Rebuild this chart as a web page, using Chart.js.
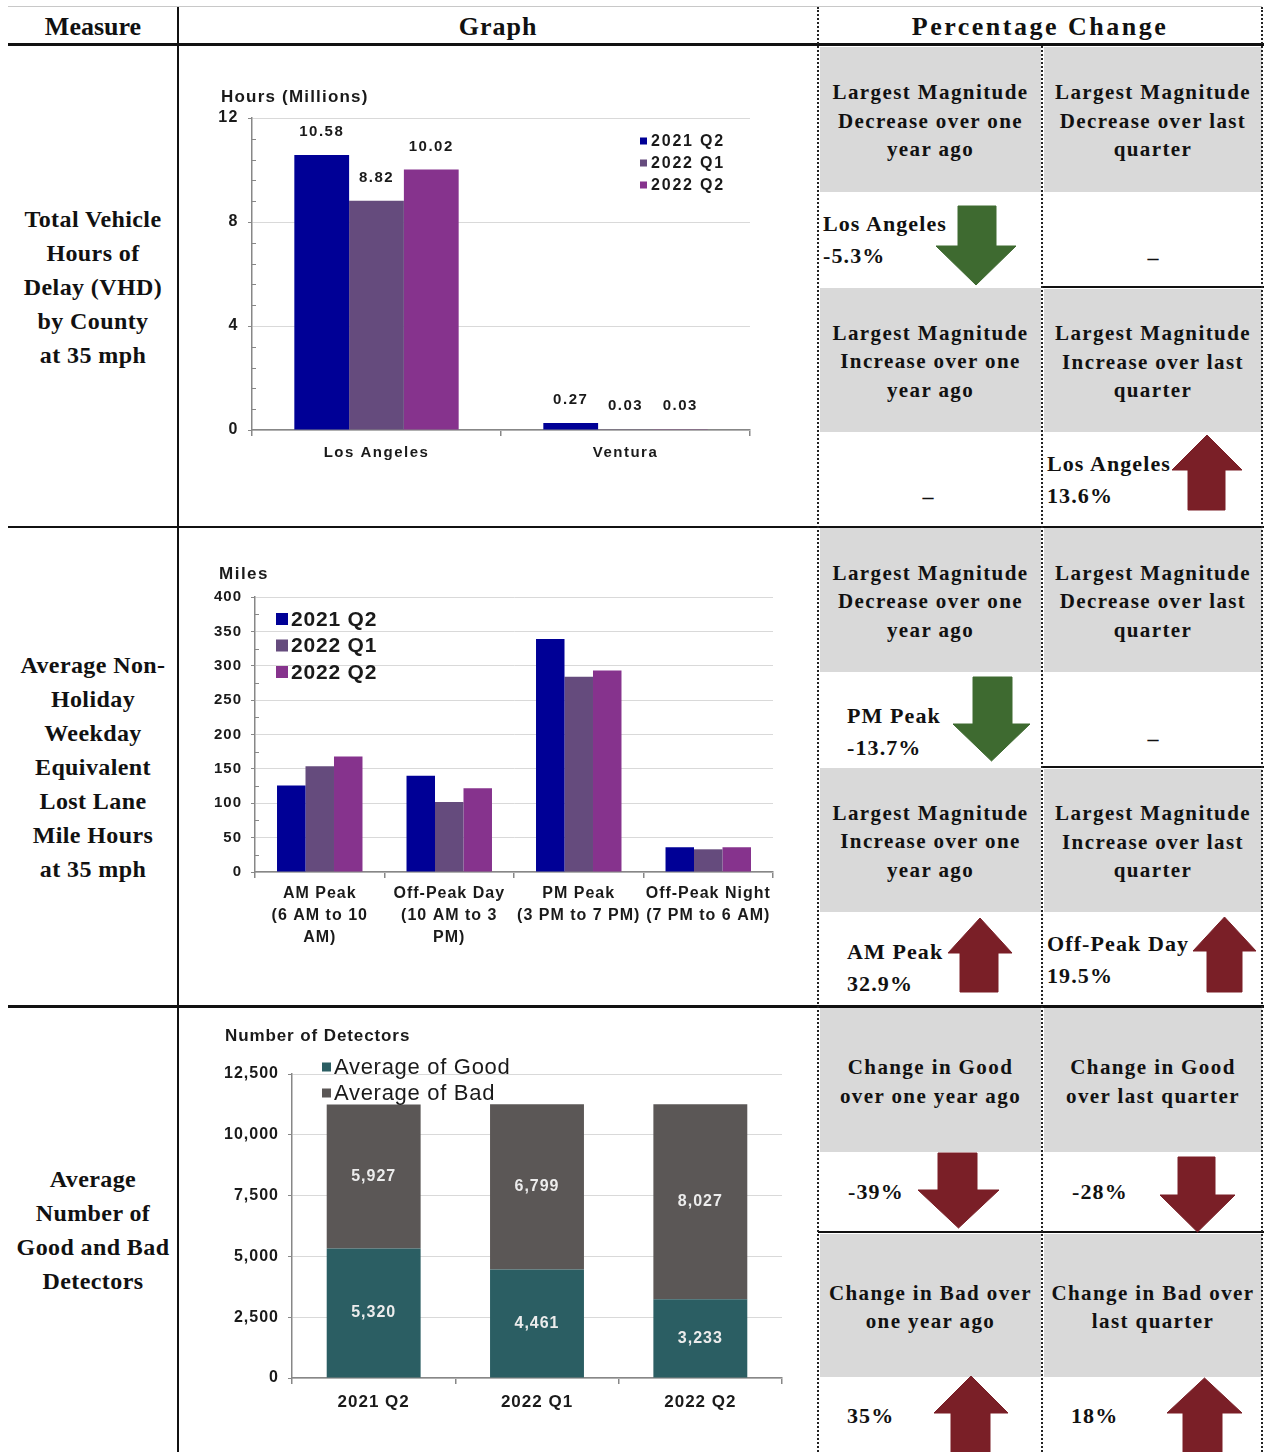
<!DOCTYPE html>
<html><head><meta charset="utf-8">
<script src="https://cdn.jsdelivr.net/npm/chart.js@4.4.0/dist/chart.umd.min.js"></script>
<style>
body{margin:0;background:#fff;}
#page{position:relative;width:1266px;height:1452px;overflow:hidden;background:#fff;font-family:'Liberation Serif','Times New Roman',serif;color:#111;}
.hl{position:absolute;background:#111;}
.vdot{position:absolute;width:0;border-left:2px dotted #222;}
.gray{position:absolute;background:#d9d9d9;display:flex;align-items:center;justify-content:center;text-align:center;font-weight:bold;font-size:21px;letter-spacing:1.4px;line-height:28.5px;padding-top:3px;box-sizing:border-box;}
.val{position:absolute;font-weight:bold;font-size:22px;line-height:32px;white-space:nowrap;letter-spacing:1.1px;}
.dash{position:absolute;font-weight:bold;font-size:22px;line-height:22px;transform:translate(-50%,-50%);}
.measure{position:absolute;left:8px;width:170px;display:flex;align-items:center;justify-content:center;text-align:center;font-weight:bold;font-size:24px;line-height:34px;letter-spacing:0.4px;}
.hdr{position:absolute;top:8px;height:37px;display:flex;align-items:center;justify-content:center;font-weight:bold;font-size:26px;}
canvas{position:absolute;}
svg{position:absolute;left:0;top:0;}
</style>
</head>
<body>
<div id="page">
  <!-- table frame -->
  <div class="hl" style="left:8px;top:6px;width:1254px;height:1px;background:#c8c8c8"></div>
  <div class="hdr" style="left:8px;width:170px;">Measure</div>
  <div class="hdr" style="left:178px;width:640px;letter-spacing:1px;">Graph</div>
  <div class="hdr" style="left:818px;width:444px;letter-spacing:2.5px;">Percentage Change</div>
  <div class="hl" style="left:8px;top:43px;width:1256px;height:3px;"></div>
  <div class="hl" style="left:177px;top:7px;width:2px;height:1445px;"></div>
  <div class="hl" style="left:8px;top:526px;width:1256px;height:2px;"></div>
  <div class="hl" style="left:8px;top:1005px;width:1256px;height:3px;"></div>

  <!-- gray cells -->
  <div class="gray" style="left:820px;top:47px;width:221px;height:145px;">Largest Magnitude<br>Decrease over one<br>year ago</div>
  <div class="gray" style="left:1044px;top:47px;width:218px;height:145px;">Largest Magnitude<br>Decrease over last<br>quarter</div>
  <div class="gray" style="left:820px;top:288px;width:221px;height:144px;">Largest Magnitude<br>Increase over one<br>year ago</div>
  <div class="gray" style="left:1044px;top:289px;width:218px;height:143px;">Largest Magnitude<br>Increase over last<br>quarter</div>

  <div class="gray" style="left:820px;top:528px;width:221px;height:144px;">Largest Magnitude<br>Decrease over one<br>year ago</div>
  <div class="gray" style="left:1044px;top:528px;width:218px;height:144px;">Largest Magnitude<br>Decrease over last<br>quarter</div>
  <div class="gray" style="left:820px;top:768px;width:221px;height:144px;">Largest Magnitude<br>Increase over one<br>year ago</div>
  <div class="gray" style="left:1044px;top:769px;width:218px;height:143px;">Largest Magnitude<br>Increase over last<br>quarter</div>

  <div class="gray" style="left:820px;top:1008px;width:221px;height:144px;">Change in Good<br>over one year ago</div>
  <div class="gray" style="left:1044px;top:1008px;width:218px;height:144px;">Change in Good<br>over last quarter</div>
  <div class="gray" style="left:820px;top:1234px;width:221px;height:143px;">Change in Bad over<br>one year ago</div>
  <div class="gray" style="left:1044px;top:1234px;width:218px;height:143px;">Change in Bad over<br>last quarter</div>

  <!-- solid separators inside pct columns -->
  <div class="hl" style="left:1042px;top:286px;width:222px;height:2px;"></div>
  <div class="hl" style="left:1042px;top:766px;width:222px;height:2px;"></div>
  <div class="hl" style="left:818px;top:1231px;width:446px;height:2px;"></div>

  <!-- dotted verticals -->
  <div class="vdot" style="left:817px;top:7px;height:1445px;"></div>
  <div class="vdot" style="left:1041px;top:46px;height:1406px;"></div>
  <div class="vdot" style="left:1261px;top:7px;height:1445px;"></div>

  <!-- measure labels -->
  <div class="measure" style="top:47px;height:480px;">Total Vehicle<br>Hours of<br>Delay (VHD)<br>by County<br>at 35 mph</div>
  <div class="measure" style="top:528px;height:478px;">Average Non-<br>Holiday<br>Weekday<br>Equivalent<br>Lost Lane<br>Mile Hours<br>at 35 mph</div>
  <div class="measure" style="top:1008px;height:444px;">Average<br>Number of<br>Good and Bad<br>Detectors</div>

  <!-- value cells -->
  <div class="val" style="left:823px;top:208px;">Los Angeles<br>-5.3%</div>
  <div class="dash" style="left:1153px;top:258px;">–</div>
  <div class="dash" style="left:928px;top:497px;">–</div>
  <div class="val" style="left:1047px;top:448px;">Los Angeles<br>13.6%</div>

  <div class="val" style="left:847px;top:700px;">PM Peak<br>-13.7%</div>
  <div class="dash" style="left:1153px;top:739px;">–</div>
  <div class="val" style="left:847px;top:936px;">AM Peak<br>32.9%</div>
  <div class="val" style="left:1047px;top:928px;">Off-Peak Day<br>19.5%</div>

  <div class="val" style="left:848px;top:1176px;">-39%</div>
  <div class="val" style="left:1072px;top:1176px;">-28%</div>
  <div class="val" style="left:847px;top:1400px;">35%</div>
  <div class="val" style="left:1071px;top:1400px;">18%</div>

  <canvas id="c1" width="570" height="400" style="left:200px;top:80px;"></canvas>
  <canvas id="c2" width="590" height="400" style="left:200px;top:560px;"></canvas>
  <canvas id="c3" width="600" height="420" style="left:200px;top:1020px;"></canvas>

  <svg id="arrows" width="1266" height="1452"></svg>
</div>

<script>
// ---------------- DATA ----------------
const seriesLabels = ['2021 Q2', '2022 Q1', '2022 Q2'];

// Chart 1: Total VHD by county (millions of hours)
const countyCategories = ['Los Angeles', 'Ventura'];
const vhd2021Q2 = [10.58, 0.27];
const vhd2022Q1 = [8.82, 0.03];
const vhd2022Q2 = [10.02, 0.03];
const vhdTicks = [0, 4, 8, 12];

// Chart 2: Lost lane mile hours by period
const periodCategories = [
  ['AM Peak', '(6 AM to 10', 'AM)'],
  ['Off-Peak Day', '(10 AM to 3', 'PM)'],
  ['PM Peak', '(3 PM to 7 PM)'],
  ['Off-Peak Night', '(7 PM to 6 AM)']
];
const llm2021Q2 = [126, 140, 339, 36];
const llm2022Q1 = [154, 102, 284, 33];
const llm2022Q2 = [168, 122, 293, 36];
const llmTicks = [0, 50, 100, 150, 200, 250, 300, 350, 400];

// Chart 3: detectors
const quarterCategories = ['2021 Q2', '2022 Q1', '2022 Q2'];
const goodDetectors = [5320, 4461, 3233];
const badDetectors = [5927, 6799, 8027];
const detectorSeries = ['Average of Good', 'Average of Bad'];
const detectorTicks = [0, 2500, 5000, 7500, 10000, 12500];

// ---------------- STYLE ----------------
const COL_A = '#000096', COL_B = '#654b7d', COL_C = '#86338d';
const COL_GOOD = '#2b5e63', COL_BAD = '#5b5756';
const AXIS_GRAY = '#878787', GRID_GRAY = '#d9d9d9', TEXT = '#1a1a1a';
const SANS = "'Liberation Sans', Arial, sans-serif";

function yScale(major, width, fontSize, fmt) {
  return {
    min: major[0], max: major[major.length - 1],
    afterBuildTicks(scale) { scale.ticks = major.map(v => ({ value: v })); },
    afterFit(scale) { scale.width = width; },
    ticks: { autoSkip: false, padding: 9, color: TEXT,
      font: { family: SANS, size: fontSize, weight: 'bold' },
      callback: (v) => fmt(v) },
    grid: { color: GRID_GRAY, tickColor: AXIS_GRAY, tickLength: 4, lineWidth: 1 },
    border: { color: AXIS_GRAY, width: 1.5 }
  };
}
function xScale(height, fontSize, padding) {
  return {
    afterFit(scale) { scale.height = height; },
    ticks: { autoSkip: false, maxRotation: 0, minRotation: 0, padding: padding, color: TEXT,
      font: { family: SANS, size: fontSize, weight: 'bold', lineHeight: 1.375 } },
    grid: { offset: true, drawOnChartArea: false, color: AXIS_GRAY, tickLength: 6, lineWidth: 1.5 },
    border: { color: AXIS_GRAY, width: 1.5 }
  };
}
function spacingPlugin(spacing) {
  return {
    id: 'letterSpacing',
    beforeDraw(chart) { chart.ctx.letterSpacing = spacing; },
    afterDraw(chart) { chart.ctx.letterSpacing = '0px'; }
  };
}
function minorTickPlugin(major, divisions) {
  return {
    id: 'minorTicks',
    afterDraw(chart) {
      const y = chart.scales.y, ctx = chart.ctx, x0 = chart.chartArea.left;
      ctx.save(); ctx.strokeStyle = AXIS_GRAY; ctx.lineWidth = 1;
      for (let i = 0; i < major.length - 1; i++) {
        for (let k = 1; k < divisions; k++) {
          const v = major[i] + (major[i + 1] - major[i]) * k / divisions;
          const py = Math.round(y.getPixelForValue(v)) + 0.5;
          ctx.beginPath(); ctx.moveTo(x0, py); ctx.lineTo(x0 + 4, py); ctx.stroke();
        }
      }
      ctx.restore();
    }
  };
}
function barLabelPlugin(mode, offset, font, color, format) {
  return {
    id: 'barLabels',
    afterDatasetsDraw(chart) {
      const ctx = chart.ctx;
      ctx.save(); ctx.font = font; ctx.fillStyle = color; ctx.textAlign = 'center'; ctx.textBaseline = 'middle';
      chart.data.datasets.forEach((ds, i) => {
        chart.getDatasetMeta(i).data.forEach((bar, j) => {
          const py = mode === 'above' ? bar.y - offset : (bar.y + bar.base) / 2;
          ctx.fillText(format(ds.data[j]), bar.x, py);
        });
      });
      ctx.restore();
    }
  };
}
function legendPlugin(x, y, step, box, gap, font, spacing) {
  return {
    id: 'boxLegend',
    afterDraw(chart) {
      const ctx = chart.ctx;
      ctx.save(); ctx.font = font; ctx.textBaseline = 'middle'; ctx.textAlign = 'left';
      ctx.letterSpacing = spacing;
      chart.data.datasets.forEach((ds, i) => {
        const cy = y + i * step;
        ctx.fillStyle = ds.backgroundColor; ctx.fillRect(x, cy - box / 2, box, box);
        ctx.fillStyle = TEXT; ctx.fillText(ds.label, x + box + gap, cy + 1);
      });
      ctx.restore();
    }
  };
}
function titlePlugin(text, x, y, font, spacing) {
  return {
    id: 'axisTitle',
    afterDraw(chart) {
      const ctx = chart.ctx;
      ctx.save(); ctx.font = font; ctx.fillStyle = TEXT; ctx.textBaseline = 'middle'; ctx.textAlign = 'left';
      ctx.letterSpacing = spacing;
      ctx.fillText(text, x, y); ctx.restore();
    }
  };
}

Chart.defaults.animation = false;

// Chart 1
new Chart(document.getElementById('c1'), {
  type: 'bar',
  data: {
    labels: countyCategories,
    datasets: [
      { label: seriesLabels[0], data: vhd2021Q2, backgroundColor: COL_A },
      { label: seriesLabels[1], data: vhd2022Q1, backgroundColor: COL_B },
      { label: seriesLabels[2], data: vhd2022Q2, backgroundColor: COL_C }
    ]
  },
  options: {
    responsive: false, animation: false,
    layout: { padding: { top: 38, right: 20, left: 0, bottom: 0 } },
    datasets: { bar: { categoryPercentage: 0.66, barPercentage: 1 } },
    plugins: { legend: { display: false }, tooltip: { enabled: false } },
    scales: {
      x: xScale(50, 15, 7),
      y: yScale(vhdTicks, 52, 16, v => String(v))
    }
  },
  plugins: [
    spacingPlugin('1.5px'),
    minorTickPlugin(vhdTicks, 5),
    barLabelPlugin('above', 23, "bold 15px " + SANS, TEXT, v => v.toFixed(2)),
    legendPlugin(440, 61, 22, 7, 4, "bold 16px " + SANS, '1.8px'),
    titlePlugin('Hours (Millions)', 21, 17, "bold 17px " + SANS, '1.2px')
  ]
});

// Chart 2
new Chart(document.getElementById('c2'), {
  type: 'bar',
  data: {
    labels: periodCategories,
    datasets: [
      { label: seriesLabels[0], data: llm2021Q2, backgroundColor: COL_A },
      { label: seriesLabels[1], data: llm2022Q1, backgroundColor: COL_B },
      { label: seriesLabels[2], data: llm2022Q2, backgroundColor: COL_C }
    ]
  },
  options: {
    responsive: false, animation: false,
    layout: { padding: { top: 37, right: 17, left: 0, bottom: 0 } },
    datasets: { bar: { categoryPercentage: 0.66, barPercentage: 1 } },
    plugins: { legend: { display: false }, tooltip: { enabled: false } },
    scales: {
      x: xScale(88, 16, 5),
      y: yScale(llmTicks, 55, 15, v => String(v))
    }
  },
  plugins: [
    spacingPlugin('1px'),
    minorTickPlugin(llmTicks, 2),
    legendPlugin(76, 59, 26.5, 12, 3, "bold 21px " + SANS, '0.8px'),
    titlePlugin('Miles', 19, 14, "bold 17px " + SANS, '1.5px')
  ]
});

// Chart 3
new Chart(document.getElementById('c3'), {
  type: 'bar',
  data: {
    labels: quarterCategories,
    datasets: [
      { label: detectorSeries[0], data: goodDetectors, backgroundColor: COL_GOOD },
      { label: detectorSeries[1], data: badDetectors, backgroundColor: COL_BAD }
    ]
  },
  options: {
    responsive: false, animation: false,
    layout: { padding: { top: 54, right: 18, left: 0, bottom: 0 } },
    datasets: { bar: { categoryPercentage: 0.575, barPercentage: 1 } },
    plugins: { legend: { display: false }, tooltip: { enabled: false } },
    scales: {
      x: Object.assign(xScale(62, 17, 7), { stacked: true }),
      y: Object.assign(yScale(detectorTicks, 92, 16, v => v.toLocaleString('en-US')), { stacked: true })
    }
  },
  plugins: [
    spacingPlugin('1px'),
    barLabelPlugin('center', 0, "bold 16px " + SANS, '#ececec', v => v.toLocaleString('en-US')),
    legendPlugin(122, 47, 26, 9, 3, "22px " + SANS, '0.7px'),
    titlePlugin('Number of Detectors', 25, 16, "bold 17px " + SANS, '0.9px')
  ]
});

// ---------------- ARROWS (table decoration) ----------------
const RED = '#7a1f27', GREEN = '#3e6a30';
const arrows = [
  // [dir, color, x0, x1, s0, s1, yTail, yHeadBase, yTip]
  ['down', GREEN, 936, 1016, 958, 996, 206, 246, 285],
  ['up', RED, 1172, 1242, 1188, 1225, 510, 470, 435],
  ['down', GREEN, 953, 1030, 973, 1012, 677, 724, 761],
  ['up', RED, 948, 1012, 960, 998, 992, 953, 918],
  ['up', RED, 1193, 1256, 1207, 1242, 992, 951, 917],
  ['down', RED, 918, 999, 938, 977, 1153, 1190, 1228],
  ['down', RED, 1160, 1235, 1178, 1215, 1157, 1195, 1232],
  ['up', RED, 934, 1008, 951, 990, 1460, 1413, 1376],
  ['up', RED, 1167, 1242, 1183, 1222, 1460, 1413, 1378]
];
const svg = document.getElementById('arrows');
arrows.forEach(a => {
  const [dir, col, x0, x1, s0, s1, yt, yh, ytip] = a;
  const xm = (x0 + x1) / 2;
  const pts = [[s0, yt], [s1, yt], [s1, yh], [x1, yh], [xm, ytip], [x0, yh], [s0, yh]];
  const p = document.createElementNS('http://www.w3.org/2000/svg', 'polygon');
  p.setAttribute('points', pts.map(q => q.join(',')).join(' '));
  p.setAttribute('fill', col);
  p.setAttribute('stroke', col);
  p.setAttribute('stroke-width', '1');
  svg.appendChild(p);
});
</script>
</body></html>
